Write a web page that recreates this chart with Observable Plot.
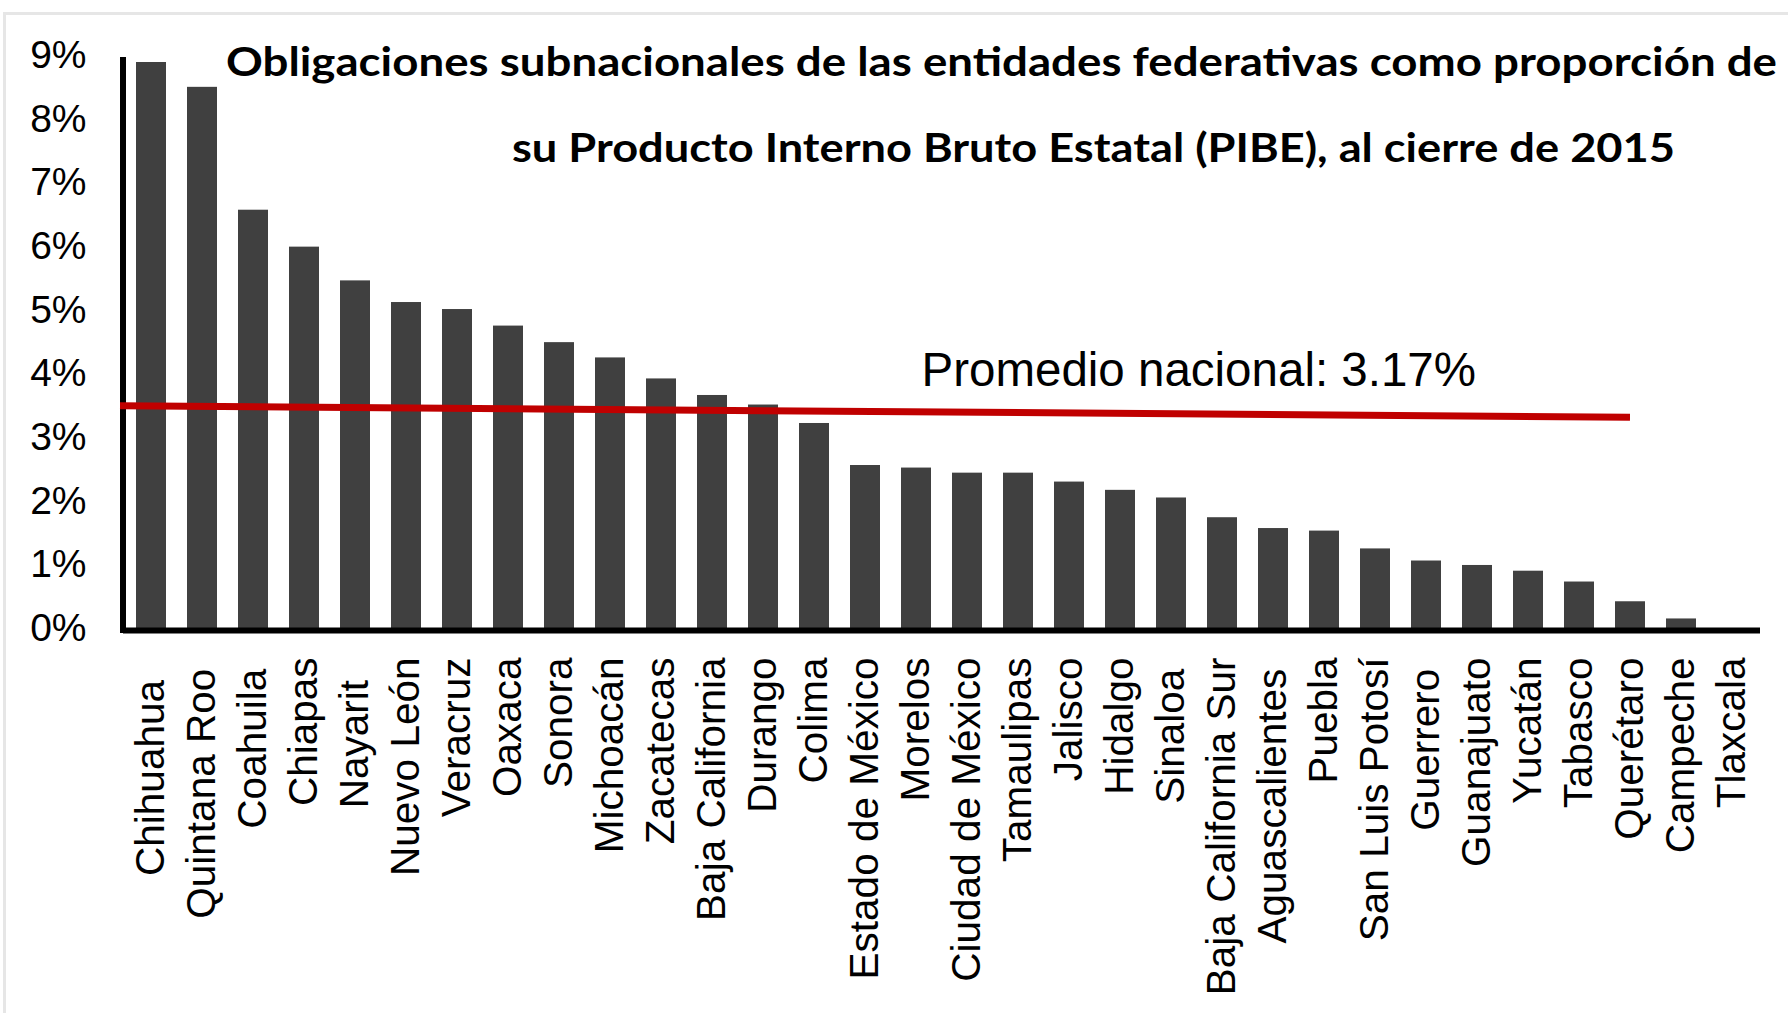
<!DOCTYPE html>
<html>
<head>
<meta charset="utf-8">
<script src="https://cdn.jsdelivr.net/npm/d3@7"></script>
<script src="https://cdn.jsdelivr.net/npm/@observablehq/plot@0.6"></script>
<style>
  html, body { margin: 0; padding: 0; background: #fff; }
  #wrap { position: relative; width: 1788px; height: 1013px; overflow: hidden; background: #fff; }
  #box { position: absolute; left: 3px; top: 12px; width: 1850px; height: 1100px;
         border-left: 3px solid #e6e6e6; border-top: 3px solid #e6e6e6; }
  #chart { position: absolute; left: 0; top: 0; }
  .t { position: absolute; font-family: Lato, "Open Sans", sans-serif; font-weight: 700;
       font-size: 40px; line-height: 1; white-space: nowrap; color: #000; transform-origin: 0 0; }
</style>
</head>
<body>
<div id="wrap">
  <div id="box"></div>
  <div id="chart"></div>
  <div class="t" id="t1" data-w="1551" style="left:226px; top:41px;">Obligaciones subnacionales de las entidades federativas como proporción de</div>
  <div class="t" id="t2" data-w="1163" style="left:512px; top:127px;">su Producto Interno Bruto Estatal (PIBE), al cierre de 2015</div>
</div>
<script>
// ---- data ----
const states = [
  "Chihuahua", "Quintana Roo", "Coahuila", "Chiapas", "Nayarit", "Nuevo León",
  "Veracruz", "Oaxaca", "Sonora", "Michoacán", "Zacatecas", "Baja California",
  "Durango", "Colima", "Estado de México", "Morelos", "Ciudad de México",
  "Tamaulipas", "Jalisco", "Hidalgo", "Sinaloa", "Baja California Sur",
  "Aguascalientes", "Puebla", "San Luis Potosí", "Guerrero", "Guanajuato",
  "Yucatán", "Tabasco", "Querétaro", "Campeche", "Tlaxcala"
];
// category labels as written in the source (some carry trailing spaces)
const stateLabels = [
  "Chihuahua\u00a0\u00a0", "Quintana Roo\u00a0", "Coahuila\u00a0", "Chiapas", "Nayarit\u00a0\u00a0", "Nuevo León",
  "Veracruz", "Oaxaca", "Sonora", "Michoacán", "Zacatecas", "Baja California",
  "Durango", "Colima", "Estado de México", "Morelos", "Ciudad de México",
  "Tamaulipas", "Jalisco", "Hidalgo", "Sinaloa\u00a0", "Baja California Sur",
  "Aguascalientes\u00a0", "Puebla", "San Luis Potosí", "Guerrero\u00a0", "Guanajuato",
  "Yucatán", "Tabasco", "Querétaro", "Campeche", "Tlaxcala"
];
const values = [
  8.89, 8.50, 6.57, 5.99, 5.46, 5.12,
  5.01, 4.75, 4.49, 4.25, 3.92, 3.66,
  3.51, 3.22, 2.56, 2.52, 2.44,
  2.44, 2.30, 2.17, 2.05, 1.74,
  1.57, 1.53, 1.25, 1.06, 0.99,
  0.90, 0.73, 0.42, 0.15, 0.00
];
const yTicks = [0, 1, 2, 3, 4, 5, 6, 7, 8, 9];
const promedio = 3.17;                 // national average (label)
const avgLineStart = 3.49;             // drawn line value at the y axis
const avgLineEndState = "Querétaro";   // drawn line ends over this state
const avgLineEnd = 3.31;               // drawn line value at its end
const avgLabel = [{state: "Morelos", value: 4.05}];

const data = states.map((state, i) => ({state, value: values[i]}));
const labelOf = new Map(states.map((s, i) => [s, stateLabels[i]]));

// ---- chart ----
const FONT = '"Liberation Sans", Arial, sans-serif';

const axesAndAverage = (index, scales, channels, dimensions) => {
  const x = scales.x, y = scales.y;
  const bw = typeof x.bandwidth === "function" ? x.bandwidth() : (x.bandwidth || 0);
  const {marginLeft} = dimensions;
  const g = d3.create("svg:g");
  g.append("line")
    .attr("x1", marginLeft).attr("x2", marginLeft)
    .attr("y1", y(yTicks[yTicks.length - 1]) + 2).attr("y2", y(0) + 5)
    .attr("stroke", "#000").attr("stroke-width", 6);
  g.append("line")
    .attr("x1", marginLeft - 3).attr("y1", y(avgLineStart))
    .attr("x2", x(avgLineEndState) + bw / 2).attr("y2", y(avgLineEnd))
    .attr("stroke", "#c00000").attr("stroke-width", 7);
  return g.node();
};

const chart = Plot.plot({
  width: 1788,
  height: 1013,
  marginLeft: 123,
  marginRight: 28,
  marginTop: 55,
  marginBottom: 385,
  x: {domain: states, paddingInner: 0.42, paddingOuter: 0.21, label: null},
  y: {domain: [0, 9], label: null},
  style: {background: "transparent", fontFamily: FONT, color: "#000", overflow: "visible"},
  marks: [
    Plot.barY(data, {x: "state", y: "value", fill: "#404040"}),
    Plot.axisX({tickRotate: -90, tickSize: 0, tickPadding: 29, fontSize: 40.5, label: null, fontFamily: FONT,
                tickFormat: d => labelOf.get(d)}),
    Plot.axisY(yTicks, {tickSize: 0, tickPadding: 37, fontSize: 39, label: null, fontFamily: FONT,
                        tickFormat: d => d + "%"}),
    Plot.ruleY([0], {stroke: "#000", strokeWidth: 6, dy: 2}),
    axesAndAverage,
    Plot.text(avgLabel, {x: "state", y: "value", text: () => `Promedio nacional: ${promedio}%`,
                         textAnchor: "start", lineAnchor: "middle", dx: 5,
                         fontSize: 47.5, fontFamily: FONT, fill: "#000"})
  ]
});
document.getElementById("chart").appendChild(chart);

// fit the title lines to the reference widths
for (const el of document.querySelectorAll(".t")) {
  const w = el.getBoundingClientRect().width;
  if (w > 0) el.style.transform = `scaleX(${+el.dataset.w / w})`;
}
</script>
</body>
</html>
